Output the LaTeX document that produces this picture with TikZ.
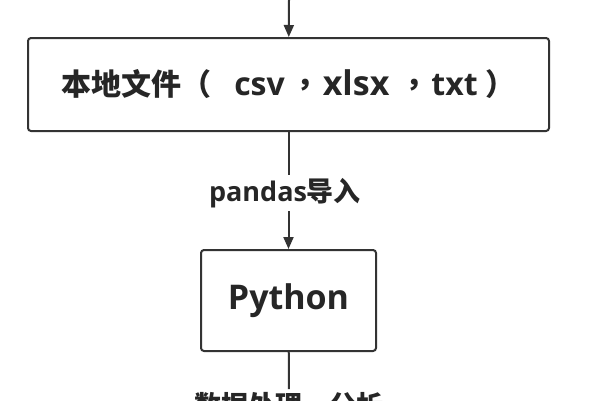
\documentclass[tikz,border=0pt]{standalone}
\usepackage{fontspec}
\setmainfont{Open Sans}
\newfontfamily\cjk{Noto Sans CJK SC}
\newfontfamily\cjkp{Noto Sans CJK TC}
\usetikzlibrary{positioning, arrows.meta}
\definecolor{linegray}{HTML}{333333}
\definecolor{textgray}{HTML}{262626}

\begin{document}
\begin{tikzpicture}
[
    x=1pt, y=-1pt, font=\bfseries,
    % the picture is laid out in pixels, y running downwards
    % boxes: files, python; labels on the links: pandas, process
]

%=================================== Start ===================================
\tikzstyle{box}  = [draw=linegray, line width=2pt, rounded corners=3pt,
                    text=textgray, inner sep=0pt, align=center]
\tikzstyle{lbl}  = [text=textgray, font=\bfseries\fontsize{27}{29}\selectfont,
                    inner sep=3pt]
\tikzstyle{flow} = [draw=linegray, line width=2pt,
                    -{Triangle[length=12pt, width=10pt]}]
\tikzstyle{link} = [draw=linegray, line width=2pt]

\useasboundingbox (0,0) rectangle (600,400);
\fill[white] (0,0) rectangle (600,400);

% the link comes in from above the picture
\coordinate (in) at (289,0);

% boxes
\node[box, minimum width=521pt, minimum height=93pt,
      font=\bfseries\fontsize{32}{34}\selectfont] (files) at (288.5,84.5)
      {{\cjk\fontsize{30}{32}\selectfont 本地文件}%
       {\cjkp\fontsize{30}{32}\selectfont （}\kern23pt csv\kern6pt%
       {\cjkp\fontsize{30}{32}\selectfont ，}\kern2pt {\fontsize{34}{36}\selectfont xlsx}\kern10pt%
       {\cjkp\fontsize{30}{32}\selectfont ，}\kern2pt txt\kern8pt%
       {\cjkp\fontsize{30}{32}\selectfont ）}};
\node[box, minimum width=175pt, minimum height=101pt,
      font=\bfseries\fontsize{34}{36}\selectfont] (python) at (288.5,300.5)
      {Python};

% labels on the links
\node[lbl] (pandas) at (285,193) {pandas{\cjk 导入}};
\node[lbl, anchor=north, font=\cjk\bfseries\fontsize{27}{29}\selectfont]
      (process) at (289,389) {数据处理，分析};

% links
\draw[flow] (in) -- (files);
\draw[link] (files) -- (files |- pandas.north);
\draw[flow] (python |- pandas.south) -- (python);
\draw[link] (python) -- (process);
%==================================== END ====================================

\end{tikzpicture}
\end{document}
